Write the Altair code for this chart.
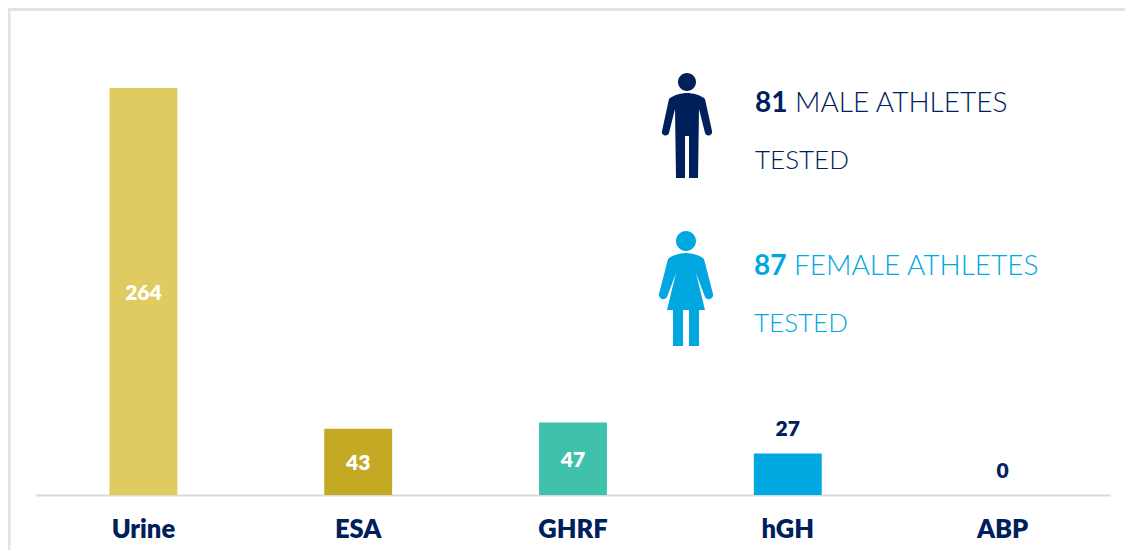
import altair as alt
import pandas as pd

categories = ["Urine", "ESA", "GHRF", "hGH", "ABP"]
tests = [264, 43, 47, 27, 0]
bar_colors = ["#dfcb5f", "#c4aa24", "#40c1ac", "#00a7e1", "#00a7e1"]
inside_label = [True, True, True, False, False]

NAVY = "#00205b"
SKY = "#00a7e1"
FRAME = "#e2e2e2"
FONT = "Lato"

MAN = ("M-9,-43A9,9 0 1,1 9,-43A9,9 0 1,1 -9,-43Z"
       "M0,-32C5,-32 14,-30 18,-26L25,6C26,11 19,12 18,8L12,-16L11,53L2,53L2,11L-2,11L-2,53L-11,53L-12,-16"
       "L-18,8C-19,12 -26,11 -25,6L-18,-26C-14,-30 -5,-32 0,-32Z")
WOMAN = ("M-10,-59A10,10 0 1,1 10,-59A10,10 0 1,1 -10,-59Z"
         "M0,-47C5,-47 14,-45 18,-41L27,-6C28,-1 21,1 19,-3L10,-27L19,10L13,10L13,46L3,46L3,10L-3,10L-3,46L-13,46L-13,10L-19,10"
         "L-10,-27L-19,-3C-21,1 -28,-1 -27,-6L-18,-41C-14,-45 -5,-47 0,-47Z")

annotations = [
    ("81", " MALE ATHLETES", "TESTED", NAVY, MAN),
    ("87", " FEMALE ATHLETES", "TESTED", SKY, WOMAN),
]

df = pd.DataFrame({"cat": categories, "n": tests, "color": bar_colors, "inside": inside_label})
blank = pd.DataFrame({"a": [0]})

x = alt.X(
    "cat:N", sort=categories, title=None,
    scale=alt.Scale(paddingInner=0.684, paddingOuter=0.342),
    axis=alt.Axis(labelAngle=0, ticks=False, domainColor="#d9d9d9", domainWidth=2,
                  labelColor=NAVY, labelFont=FONT, labelFontWeight=800, labelFontSize=25.5,
                  labelPadding=22, grid=False),
)
y = alt.Y("n:Q", title=None, scale=alt.Scale(domain=[0, 264], nice=False), axis=None)

bars = alt.Chart(df).mark_bar().encode(x=x, y=y, color=alt.Color("color:N", scale=None))

inside = (
    alt.Chart(df[df.inside]).transform_calculate(mid="datum.n / 2")
    .mark_text(font=FONT, fontWeight=800, fontSize=21, color="white", baseline="middle", dy=2)
    .encode(x=alt.X("cat:N", sort=categories), y=alt.Y("mid:Q"), text="n:Q")
)
outside = (
    alt.Chart(df[~df.inside])
    .mark_text(font=FONT, fontWeight=800, fontSize=21, color=NAVY, baseline="middle", dy=-23)
    .encode(x=alt.X("cat:N", sort=categories), y=alt.Y("n:Q"), text="n:Q")
)


def label(text, px, py, color, bold=False, size=28):
    return alt.Chart(blank).mark_text(
        text=text, font=FONT, fontSize=size, color=color, align="left", baseline="middle",
        fontWeight="bold" if bold else 300,
    ).encode(x=alt.value(px), y=alt.value(py))


def figure(path, color, px, py):
    return alt.Chart(blank).mark_point(
        shape=path, size=4, filled=True, fill=color, opacity=1, strokeWidth=0
    ).encode(x=alt.value(px), y=alt.value(py))


m, f = annotations
layers = [
    bars, inside, outside,
    figure(m[4], m[3], 651, 37), figure(f[4], f[3], 650, 212),
    label(m[0], 719, 16, m[3], True), label(m[1].strip(), 759, 16, m[3]), label(m[2], 719, 73, m[3], size=26),
    label(f[0], 718, 179, f[3], True), label(f[1].strip(), 758, 179, f[3]), label(f[2], 718, 236, f[3], size=26),
    alt.Chart(blank).mark_rule(color=FRAME, strokeWidth=3).encode(x=alt.value(-27), y=alt.value(-80), y2=alt.value(470)),
    alt.Chart(blank).mark_rule(color=FRAME, strokeWidth=3).encode(x=alt.value(-28), x2=alt.value(1100), y=alt.value(-78.5)),
]

chart = alt.layer(*layers).resolve_scale(color="independent").properties(
    width=1074, height=407,
    padding={"left": 28, "top": 80, "right": 15, "bottom": 55},
    autosize=alt.AutoSizeParams(type="none"),
    background="white",
).configure_view(stroke=None)

chart.save("out.html", embed_options={"renderer": "svg", "actions": False})
